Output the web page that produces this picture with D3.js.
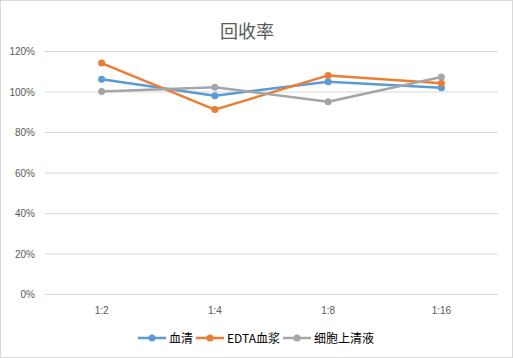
<!DOCTYPE html>
<html lang="zh">
<head>
<meta charset="UTF-8">
<title>回收率</title>
<script src="https://d3js.org/d3.v7.min.js"></script>
<style>
  body { margin: 0; background: #fff; }
  svg { display: block; font-family: "Noto Sans CJK SC", "Liberation Sans", sans-serif; }
</style>
</head>
<body>
<svg id="chart"></svg>
<script>
// données
const categories = ["1:2", "1:4", "1:8", "1:16"];
const seriesNames = ["血清", "EDTA血浆", "细胞上清液"];
const serum = [1.063, 0.982, 1.051, 1.021];
const edta = [1.143, 0.913, 1.082, 1.043];
const supernatant = [1.003, 1.023, 0.952, 1.074];
const yTicks = [0, 0.2, 0.4, 0.6, 0.8, 1.0, 1.2];
const colors = ["#5B9BD5", "#ED7D31", "#A5A5A5"];

const width = 513, height = 358;
const margin = { left: 45, right: 15, top: 51.5, bottom: 63.5 };

const svg = d3.select("#chart").attr("width", width).attr("height", height);

// cadre
svg.append("rect")
  .attr("x", 0.5).attr("y", 0.5)
  .attr("width", width - 1).attr("height", height - 1)
  .attr("fill", "#fff").attr("stroke", "#D9D9D9");

const x = d3.scaleBand().domain(categories)
  .range([margin.left, width - margin.right]);
const y = d3.scaleLinear().domain([0, 1.2])
  .range([height - margin.bottom, margin.top]);

// grille
svg.append("g")
  .selectAll("line")
  .data(yTicks)
  .enter().append("line")
  .attr("x1", margin.left).attr("x2", width - margin.right)
  .attr("y1", d => y(d)).attr("y2", d => y(d))
  .attr("stroke", "#D9D9D9").attr("stroke-width", 1);

// axe y
const yAxis = svg.append("g")
  .attr("transform", `translate(${margin.left - 7},0)`)
  .call(d3.axisLeft(y).tickValues(yTicks).tickFormat(d3.format(".0%")).tickSize(0));
yAxis.select(".domain").remove();
yAxis.selectAll("text")
  .attr("font-size", "10px").attr("fill", "#595959")
  .attr("font-family", "Liberation Sans, sans-serif");

// axe x
const xAxis = svg.append("g")
  .attr("transform", `translate(0,${height - margin.bottom + 9})`)
  .call(d3.axisBottom(x).tickSize(0));
xAxis.select(".domain").remove();
xAxis.selectAll("text")
  .attr("font-size", "10px").attr("fill", "#595959")
  .attr("font-family", "Liberation Sans, sans-serif");

// titre
svg.append("text")
  .attr("x", 247).attr("y", 38)
  .attr("text-anchor", "middle")
  .attr("font-size", "18px")
  .attr("fill", "#595959")
  .text("回收率");

// séries
const series = [serum, edta, supernatant];
const line = d3.line()
  .x((d, i) => x(categories[i]) + x.bandwidth() / 2)
  .y(d => y(d));

series.forEach((values, s) => {
  const g = svg.append("g");
  g.append("path")
    .datum(values)
    .attr("d", line)
    .attr("fill", "none")
    .attr("stroke", colors[s])
    .attr("stroke-width", 2.5)
    .attr("stroke-linejoin", "round")
    .attr("stroke-linecap", "round");
  g.selectAll("circle")
    .data(values)
    .enter().append("circle")
    .attr("cx", (d, i) => x(categories[i]) + x.bandwidth() / 2)
    .attr("cy", d => y(d))
    .attr("r", 3.5)
    .attr("fill", colors[s]);
});

// légende
const legendX = [138, 196, 283];
const legendY = 338;
seriesNames.forEach((name, s) => {
  const g = svg.append("g").attr("transform", `translate(${legendX[s]},${legendY})`);
  g.append("line")
    .attr("x1", 0).attr("x2", 28)
    .attr("y1", 0).attr("y2", 0)
    .attr("stroke", colors[s]).attr("stroke-width", 2.5);
  g.append("circle").attr("cx", 14).attr("cy", 0).attr("r", 3.5).attr("fill", colors[s]);
  g.append("text")
    .attr("x", 31).attr("y", 4.5)
    .attr("font-size", "12px")
    .attr("fill", "#000")
    .text(name);
});
</script>
</body>
</html>
